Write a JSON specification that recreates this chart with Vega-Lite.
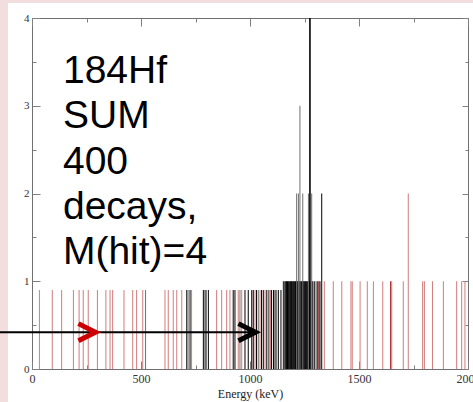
{
  "$schema": "https://vega.github.io/schema/vega-lite/v6.json",
  "width": 436,
  "height": 351,
  "autosize": {"type": "none"},
  "padding": {"left": 32, "top": 18, "right": 5, "bottom": 33},
  "background": "white",
  "config": {
    "view": {"stroke": "#707070", "strokeWidth": 1},
    "axis": {"grid": false, "domain": false, "tickColor": "#808080", "labelFont": "Liberation Serif", "labelColor": "#333333", "titleFont": "Liberation Serif", "titleFontWeight": "normal", "titleColor": "#222222"}
  },
  "resolve": {"axis": {"x": "independent", "y": "independent"}},
  "layer": [
    {
      "data": {"values": [{}]},
      "mark": {"type": "rect", "fill": "#f2dede", "clip": false},
      "encoding": {
        "x": {"datum": -150, "type": "quantitative", "scale": {"domain": [0, 2000], "nice": false, "zero": false}, "axis": null},
        "x2": {"datum": -110},
        "y": {"datum": -0.45, "type": "quantitative", "scale": {"domain": [0, 4], "nice": false, "zero": false}, "axis": null},
        "y2": {"datum": 4.25}
      }
    },
    {
      "data": {"values": [{}]},
      "mark": {"type": "rect", "fill": "#f2dede", "clip": false},
      "encoding": {
        "x": {"datum": -150, "type": "quantitative", "scale": {"domain": [0, 2000], "nice": false, "zero": false}, "axis": null},
        "x2": {"datum": 2060},
        "y": {"datum": 4.17, "type": "quantitative", "scale": {"domain": [0, 4], "nice": false, "zero": false}, "axis": null},
        "y2": {"datum": 4.25}
      }
    },
    {
      "data": {"values": [
        {"e": 34, "h": 0.9, "c": "r"}, {"e": 93, "h": 0.9, "c": "r"}, {"e": 136, "h": 0.9, "c": "r"}, {"e": 190, "h": 0.9, "c": "r"},
        {"e": 216, "h": 0.9, "c": "r"}, {"e": 235, "h": 0.9, "c": "r"}, {"e": 258, "h": 0.9, "c": "r"}, {"e": 300, "h": 0.9, "c": "r"},
        {"e": 339, "h": 0.9, "c": "r"}, {"e": 358, "h": 0.9, "c": "r"}, {"e": 370, "h": 0.9, "c": "r"}, {"e": 422, "h": 0.9, "c": "r"},
        {"e": 462, "h": 0.9, "c": "r"}, {"e": 480, "h": 0.9, "c": "r"}, {"e": 508, "h": 0.9, "c": "r"}, {"e": 521, "h": 0.9, "c": "g"},
        {"e": 610, "h": 0.9, "c": "r"}, {"e": 625, "h": 0.9, "c": "r"}, {"e": 648, "h": 0.9, "c": "r"}, {"e": 664, "h": 0.9, "c": "r"},
        {"e": 687, "h": 0.9, "c": "r"}, {"e": 732, "h": 0.9, "c": "r"}, {"e": 847, "h": 0.9, "c": "r"}, {"e": 870, "h": 0.9, "c": "r"},
        {"e": 893, "h": 0.9, "c": "r"}, {"e": 908, "h": 0.9, "c": "r"}, {"e": 946, "h": 0.9, "c": "r"}, {"e": 962, "h": 0.9, "c": "r"},
        {"e": 1023, "h": 0.9, "c": "r"}, {"e": 1046, "h": 0.9, "c": "r"}, {"e": 1069, "h": 0.9, "c": "r"}, {"e": 1092, "h": 0.9, "c": "dr"},
        {"e": 710, "h": 0.9, "c": "k"}, {"e": 716, "h": 0.9, "c": "g"}, {"e": 725, "h": 0.9, "c": "k"}, {"e": 786, "h": 0.9, "c": "k"},
        {"e": 794, "h": 0.9, "c": "k"}, {"e": 800, "h": 0.9, "c": "g"}, {"e": 809, "h": 0.9, "c": "k"}, {"e": 923, "h": 0.9, "c": "k"},
        {"e": 931, "h": 0.9, "c": "k"}, {"e": 954, "h": 0.9, "c": "g"}, {"e": 977, "h": 0.9, "c": "k"}, {"e": 992, "h": 0.9, "c": "k"},
        {"e": 1008, "h": 0.9, "c": "k"}, {"e": 1015, "h": 0.9, "c": "k"}, {"e": 1030, "h": 0.9, "c": "k"}, {"e": 1038, "h": 0.9, "c": "g"},
        {"e": 1053, "h": 0.9, "c": "k"}, {"e": 1061, "h": 0.9, "c": "k"}, {"e": 1077, "h": 0.9, "c": "k"}, {"e": 1085, "h": 0.9, "c": "g"},
        {"e": 1099, "h": 0.9, "c": "k"}, {"e": 1108, "h": 0.9, "c": "k"}, {"e": 1115, "h": 0.9, "c": "k"}, {"e": 1122, "h": 0.9, "c": "g"},
        {"e": 1130, "h": 0.9, "c": "k"}, {"e": 1142, "h": 0.9, "c": "k"},
        {"e": 1153, "h": 1, "c": "k"}, {"e": 1157, "h": 1, "c": "g"}, {"e": 1161, "h": 1, "c": "k"}, {"e": 1165, "h": 1, "c": "k"},
        {"e": 1168, "h": 1, "c": "k"}, {"e": 1172, "h": 1, "c": "k"}, {"e": 1176, "h": 1, "c": "k"}, {"e": 1180, "h": 1, "c": "k"},
        {"e": 1184, "h": 1, "c": "k"}, {"e": 1187, "h": 1, "c": "k"}, {"e": 1190, "h": 1, "c": "k"}, {"e": 1194, "h": 1, "c": "k"},
        {"e": 1198, "h": 1, "c": "k"}, {"e": 1201, "h": 1, "c": "k"}, {"e": 1205, "h": 1, "c": "k"}, {"e": 1209, "h": 1, "c": "k"},
        {"e": 1212, "h": 1, "c": "k"}, {"e": 1216, "h": 1, "c": "k"}, {"e": 1219, "h": 1, "c": "k"}, {"e": 1223, "h": 1, "c": "k"},
        {"e": 1226, "h": 1, "c": "k"}, {"e": 1230, "h": 1, "c": "k"}, {"e": 1233, "h": 1, "c": "k"}, {"e": 1237, "h": 1, "c": "k"},
        {"e": 1240, "h": 1, "c": "k"}, {"e": 1244, "h": 1, "c": "k"}, {"e": 1247, "h": 1, "c": "k"}, {"e": 1251, "h": 1, "c": "k"},
        {"e": 1254, "h": 1, "c": "k"}, {"e": 1258, "h": 1, "c": "k"}, {"e": 1261, "h": 1, "c": "k"}, {"e": 1265, "h": 1, "c": "k"},
        {"e": 1268, "h": 1, "c": "k"}, {"e": 1272, "h": 1, "c": "k"}, {"e": 1279, "h": 1, "c": "g"}, {"e": 1286, "h": 1, "c": "k"},
        {"e": 1290, "h": 1, "c": "g"}, {"e": 1297, "h": 1, "c": "k"}, {"e": 1304, "h": 1, "c": "g"}, {"e": 1311, "h": 1, "c": "k"},
        {"e": 1316, "h": 1, "c": "dr"}, {"e": 1321, "h": 1, "c": "k"},
        {"e": 1341, "h": 1, "c": "r"}, {"e": 1382, "h": 1, "c": "r"}, {"e": 1421, "h": 1, "c": "r"}, {"e": 1463, "h": 1, "c": "r"},
        {"e": 1469, "h": 1, "c": "r"}, {"e": 1505, "h": 1, "c": "r"}, {"e": 1538, "h": 1, "c": "r"}, {"e": 1566, "h": 1, "c": "r"},
        {"e": 1609, "h": 1, "c": "r"}, {"e": 1645, "h": 1, "c": "dr"}, {"e": 1650, "h": 1, "c": "r"}, {"e": 1703, "h": 1, "c": "r"},
        {"e": 1792, "h": 1, "c": "r"}, {"e": 1800, "h": 1, "c": "r"}, {"e": 1837, "h": 1, "c": "r"}, {"e": 1887, "h": 1, "c": "r"},
        {"e": 1948, "h": 1, "c": "r"}, {"e": 1971, "h": 1, "c": "r"}, {"e": 1986, "h": 1, "c": "r"},
        {"e": 1726, "h": 2, "c": "r"},
        {"e": 1214, "h": 2, "c": "g"}, {"e": 1222, "h": 2, "c": "g"}, {"e": 1229, "h": 3, "c": "g"}, {"e": 1242, "h": 2, "c": "g"},
        {"e": 1268, "h": 2, "c": "g"}, {"e": 1274, "h": 4, "c": "k"}, {"e": 1276, "h": 4, "c": "k"}, {"e": 1283, "h": 2, "c": "g"},
        {"e": 1329, "h": 2, "c": "k"}
      ]},
      "mark": {"type": "rule", "strokeWidth": 1},
      "encoding": {
        "x": {"field": "e", "type": "quantitative", "scale": {"domain": [0, 2000], "nice": false, "zero": false},
          "axis": {"orient": "bottom", "values": [0, 500, 1000, 1500, 2000], "format": "d", "offset": -8, "tickSize": 8, "labelPadding": 4, "labelFontSize": 12, "labelFlush": false, "title": "Energy (keV)", "titleFontSize": 12, "titlePadding": 4}},
        "y": {"field": "h", "type": "quantitative", "scale": {"domain": [0, 4], "nice": false, "zero": false},
          "axis": {"orient": "left", "values": [0, 1, 2, 3, 4], "format": "d", "offset": -8, "tickSize": 8, "labelPadding": 3, "labelFontSize": 11, "title": null}},
        "y2": {"datum": 0},
        "color": {"field": "c", "type": "nominal", "legend": null,
          "scale": {"domain": ["r", "dr", "k", "g"], "range": ["#d27b7b", "#a32020", "#000000", "#6f6f6f"]}}
      }
    },
    {
      "data": {"values": [{"x": 142, "y": 3.26, "t": "184Hf\nSUM\n400\ndecays,\nM(hit)=4"}]},
      "mark": {"type": "text", "font": "Liberation Sans", "fontSize": 39, "lineHeight": 45.3, "lineBreak": "\n", "align": "left", "baseline": "alphabetic", "color": "#000000"},
      "encoding": {
        "x": {"field": "x", "type": "quantitative", "scale": {"domain": [0, 2000], "nice": false, "zero": false},
          "axis": {"orient": "top", "values": [0, 500, 1000, 1500, 2000], "offset": -8, "tickSize": 8, "labels": false, "title": null}},
        "y": {"field": "y", "type": "quantitative", "scale": {"domain": [0, 4], "nice": false, "zero": false},
          "axis": {"orient": "right", "values": [0, 1, 2, 3, 4], "offset": -6, "tickSize": 6, "labels": false, "title": null}},
        "text": {"field": "t"}
      }
    },
    {
      "data": {"values": [{"a": -147, "b": 1032, "y": 0.42}]},
      "mark": {"type": "rule", "color": "#000000", "strokeWidth": 2, "clip": false},
      "encoding": {
        "x": {"field": "a", "type": "quantitative", "scale": {"domain": [0, 2000], "nice": false, "zero": false},
          "axis": {"orient": "bottom", "values": [250, 750, 1250, 1750], "offset": -4, "tickSize": 4, "labels": false, "title": null}},
        "x2": {"field": "b"},
        "y": {"field": "y", "type": "quantitative", "scale": {"domain": [0, 4], "nice": false, "zero": false},
          "axis": {"orient": "left", "values": [0.5, 1.5, 2.5, 3.5], "offset": -4, "tickSize": 4, "labels": false, "title": null}}
      }
    },
    {
      "data": {"values": [{"x": 252, "y": 0.42}]},
      "mark": {"type": "point", "shape": "M -1 -1 L 1 0 L -1 1", "filled": false, "stroke": "#cc0000", "strokeWidth": 5, "size": 290, "opacity": 1},
      "encoding": {
        "x": {"field": "x", "type": "quantitative", "scale": {"domain": [0, 2000], "nice": false, "zero": false},
          "axis": {"orient": "top", "values": [250, 750, 1250, 1750], "offset": -4, "tickSize": 4, "labels": false, "title": null}},
        "y": {"field": "y", "type": "quantitative", "scale": {"domain": [0, 4], "nice": false, "zero": false},
          "axis": {"orient": "right", "values": [0.5, 1.5, 2.5, 3.5], "offset": -3, "tickSize": 3, "labels": false, "title": null}}
      }
    },
    {
      "data": {"values": [{"x": 986, "y": 0.42}]},
      "mark": {"type": "point", "shape": "M -1 -1 L 1 0 L -1 1", "filled": false, "stroke": "#000000", "strokeWidth": 5, "size": 290, "opacity": 1},
      "encoding": {
        "x": {"field": "x", "type": "quantitative", "scale": {"domain": [0, 2000], "nice": false, "zero": false}, "axis": null},
        "y": {"field": "y", "type": "quantitative", "scale": {"domain": [0, 4], "nice": false, "zero": false}, "axis": null}
      }
    }
  ]
}
